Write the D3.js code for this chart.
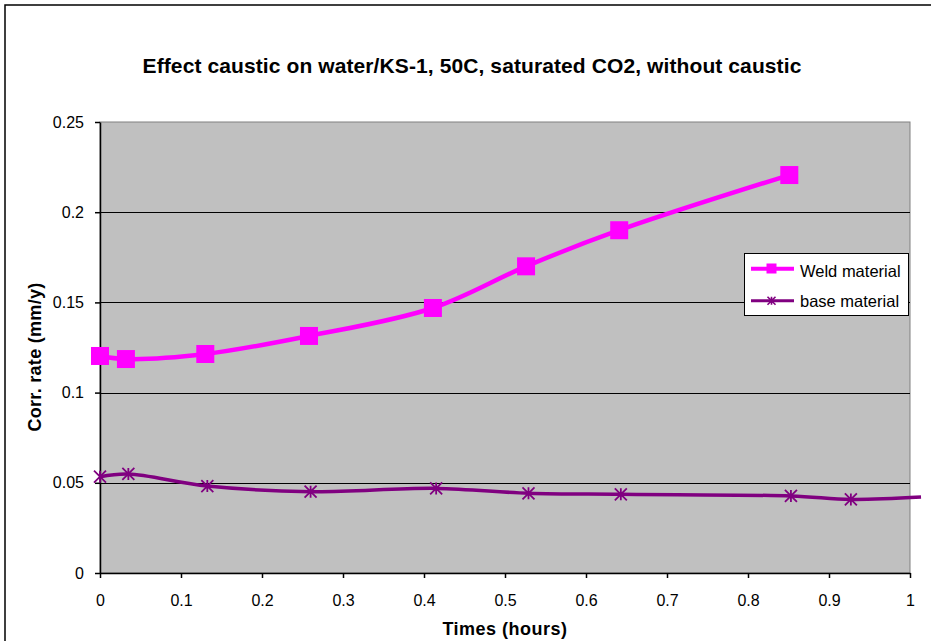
<!DOCTYPE html>
<html><head><meta charset="utf-8">
<script src="https://cdn.jsdelivr.net/npm/d3@7"></script>
<style>body{margin:0;background:#fff;}svg{display:block;font-family:"Liberation Sans",Arial,sans-serif;}</style>
</head><body>
<svg id="c" width="931" height="641"></svg>
<script>
const title = "Effect caustic on water/KS-1, 50C, saturated CO2, without caustic";
const xTitle = "Times (hours)";
const yTitle = "Corr. rate (mm/y)";
const xTicks = [0,0.1,0.2,0.3,0.4,0.5,0.6,0.7,0.8,0.9,1];
const yTicks = [0,0.05,0.1,0.15,0.2,0.25];
const weldX = [0,0.032,0.13,0.258,0.411,0.526,0.641,0.851];
const weldY = [0.1203,0.1186,0.1214,0.1314,0.1469,0.170,0.190,0.2206];
const baseX = [0,0.035,0.1325,0.260,0.415,0.529,0.643,0.853,0.927,1.0136];
const baseY = [0.0534,0.0549,0.0482,0.0451,0.0469,0.0442,0.0436,0.0427,0.0408,0.0421];
const seriesNames = ["Weld material","base material"];

const svg = d3.select("#c");
const L=100,R=910,T=122,B=573;
const x = d3.scaleLinear().domain([0,1]).range([L,R]);
const y = d3.scaleLinear().domain([0,0.25]).range([B,T]);

svg.append("rect").attr("x",5).attr("y",5).attr("width",940).attr("height",660)
  .attr("fill","#fff").attr("stroke","#000").attr("stroke-width",1.5);

svg.append("text").attr("x",472).attr("y",73).attr("text-anchor","middle")
  .attr("font-size",21).attr("font-weight","bold").attr("letter-spacing",0.1).text(title);

svg.append("rect").attr("x",L).attr("y",T).attr("width",R-L).attr("height",B-T)
  .attr("fill","#C0C0C0").attr("stroke","#808080").attr("stroke-width",1);

svg.append("g").selectAll("line").data(yTicks.filter(d=>d>0&&d<0.25)).join("line")
  .attr("x1",L).attr("x2",R).attr("y1",d=>Math.round(y(d))+0.5).attr("y2",d=>Math.round(y(d))+0.5)
  .attr("stroke","#000").attr("stroke-width",1);

const yAxis = svg.append("g").attr("transform",`translate(${L},0)`)
  .call(d3.axisLeft(y).tickValues(yTicks).tickSize(5).tickSizeOuter(0).tickPadding(11).tickFormat(d=>String(+d.toFixed(2))));
const xAxis = svg.append("g").attr("transform",`translate(0,${B})`)
  .call(d3.axisBottom(x).tickValues(xTicks).tickSize(5).tickSizeOuter(0).tickPadding(17).tickFormat(d=>String(+d.toFixed(1))));
[yAxis,xAxis].forEach(a=>{
  a.select(".domain").attr("stroke","#000").attr("stroke-width",1.5);
  a.selectAll(".tick line").attr("stroke","#000").attr("stroke-width",1.5);
  a.selectAll("text").attr("font-size",16).attr("fill","#000").attr("font-family","Liberation Sans, Arial, sans-serif");
});

svg.append("text").attr("x",505).attr("y",635).attr("text-anchor","middle")
  .attr("font-size",18).attr("font-weight","bold").attr("letter-spacing",0.5).text(xTitle);
svg.append("text").attr("transform","translate(41,357) rotate(-90)").attr("text-anchor","middle")
  .attr("font-size",18).attr("font-weight","bold").attr("letter-spacing",0.3).text(yTitle);

const line = d3.line().x(d=>x(d[0])).y(d=>y(d[1])).curve(d3.curveCatmullRom.alpha(0.5));
const weld = weldX.map((v,i)=>[v,weldY[i]]);
const base = baseX.map((v,i)=>[v,baseY[i]]);

svg.append("path").attr("d",line(base)).attr("fill","none").attr("stroke","#800080").attr("stroke-width",3.5);
svg.append("path").attr("d",line(weld)).attr("fill","none").attr("stroke","#FF00FF").attr("stroke-width",4.5);

function star(g,cx,cy,s,w){
  g.append("path").attr("d",`M${cx-s},${cy-s}L${cx+s},${cy+s}M${cx-s},${cy+s}L${cx+s},${cy-s}M${cx},${cy-s}L${cx},${cy+s}`)
   .attr("stroke","#800080").attr("stroke-width",w).attr("fill","none");
}
const sg = svg.append("g");
base.filter(d=>d[0]<=1).forEach(d=>star(sg,x(d[0]),y(d[1]),6,1.8));
svg.append("g").selectAll("rect").data(weld).join("rect")
  .attr("x",d=>x(d[0])-9).attr("y",d=>y(d[1])-9).attr("width",18).attr("height",18).attr("fill","#FF00FF");

// legend
const lg = svg.append("g");
lg.append("rect").attr("x",744.5).attr("y",253.5).attr("width",164).attr("height",62).attr("fill","#fff").attr("stroke","#000").attr("stroke-width",1);
lg.append("line").attr("x1",751).attr("x2",794).attr("y1",268.7).attr("y2",268.7).attr("stroke","#FF00FF").attr("stroke-width",4);
lg.append("rect").attr("x",766.5).attr("y",263.5).attr("width",10).attr("height",10).attr("fill","#FF00FF");
lg.append("line").attr("x1",751).attr("x2",794).attr("y1",300.7).attr("y2",300.7).attr("stroke","#800080").attr("stroke-width",3);
star(lg,771.5,300.7,4,1.6);
lg.selectAll("text").data(seriesNames).join("text").attr("x",800).attr("y",(d,i)=>277+i*29.5)
  .attr("font-size",16.5).text(d=>d);
</script>
</body></html>
